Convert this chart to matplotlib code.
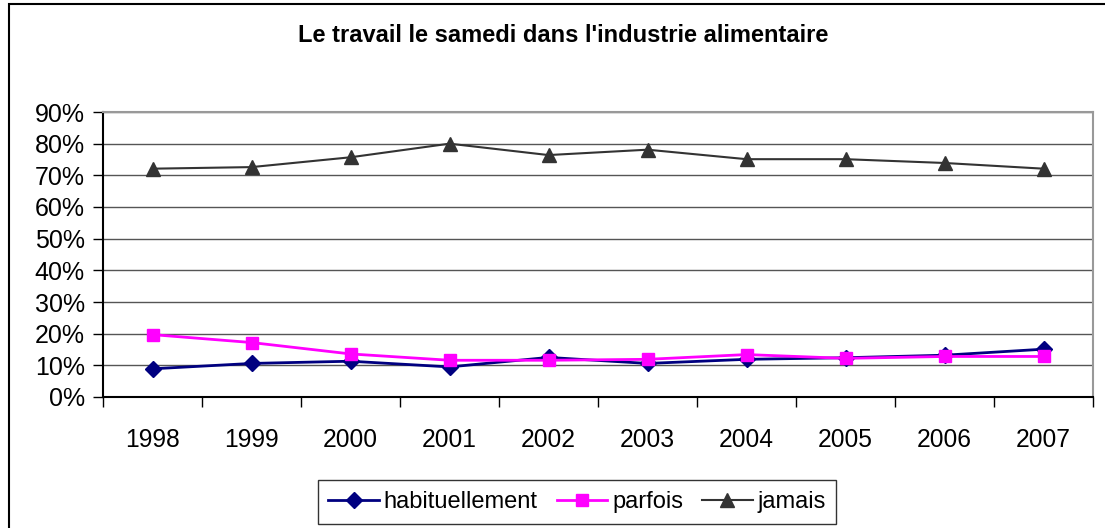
import numpy as np
import matplotlib
matplotlib.use('Agg')
import matplotlib.pyplot as plt
from matplotlib.patches import Rectangle

years = ['1998', '1999', '2000', '2001', '2002', '2003', '2004', '2005', '2006', '2007']
habituellement = [8.9, 10.6, 11.3, 9.5, 12.5, 10.6, 11.9, 12.4, 13.2, 15.1]
parfois = [19.7, 17.2, 13.6, 11.6, 11.6, 11.9, 13.4, 12.2, 12.8, 12.8]
jamais = [72.1, 72.6, 75.7, 80.0, 76.4, 78.1, 75.1, 75.1, 73.9, 72.1]

plt.rcParams['font.family'] = ['Liberation Sans', 'DejaVu Sans']

W, H = 1105, 528
fig = plt.figure(figsize=(W / 100, H / 100), dpi=100)

# chart border (runs off the right and bottom edges)
fig.patches.append(Rectangle((9 / W, -0.2), 1.2, 1.2 - 4 / H, transform=fig.transFigure,
                             fill=False, edgecolor='black', linewidth=1.5))

ax = fig.add_axes([103 / W, 1 - 397 / H, (1093 - 103) / W, (397 - 112) / H])
x = np.arange(len(years))

ax.plot(x, habituellement, color='#000080', lw=2, marker='D', ms=8, label='habituellement')
ax.plot(x, parfois, color='#FF00FF', lw=2, marker='s', ms=9, label='parfois')
ax.plot(x, jamais, color='#333333', lw=1.5, marker='^', ms=10, label='jamais')

ax.set_xlim(-0.5, len(years) - 0.5)
ax.set_ylim(0, 90)
ax.set_yticks(np.arange(0, 91, 10))
ax.set_yticklabels([f'{v}%' for v in range(0, 91, 10)], fontsize=18)
ax.yaxis.grid(True, color='#555555', lw=1)
ax.set_axisbelow(True)

ax.set_xticks(np.arange(-0.5, len(years), 1))
ax.set_xticklabels([])
ax.set_xticks(x, minor=True)
ax.set_xticklabels(years, minor=True, fontsize=17.7)
ax.tick_params(axis='x', which='minor', length=0, pad=22)
ax.tick_params(axis='x', which='major', direction='out', length=7, width=1)
ax.tick_params(axis='y', direction='out', length=7, width=1, pad=6)

for s in ['top', 'right']:
    ax.spines[s].set_color('#999999')
    ax.spines[s].set_linewidth(1.5)
for s in ['left', 'bottom']:
    ax.spines[s].set_color('black')
    ax.spines[s].set_linewidth(1.5)

fig.text(563 / W, 1 - 35 / H, "Le travail le samedi dans l'industrie alimentaire",
         ha='center', va='center', fontsize=17, fontweight='bold')

leg = fig.legend(loc='center', bbox_to_anchor=(577 / W, 1 - 502 / H), ncol=3,
                 fontsize=17, frameon=True, fancybox=False, edgecolor='black',
                 handlelength=2.15, handletextpad=0.2, columnspacing=0.8,
                 borderpad=0.45)
leg.get_frame().set_linewidth(1)

fig.savefig('out.png', dpi=100)
